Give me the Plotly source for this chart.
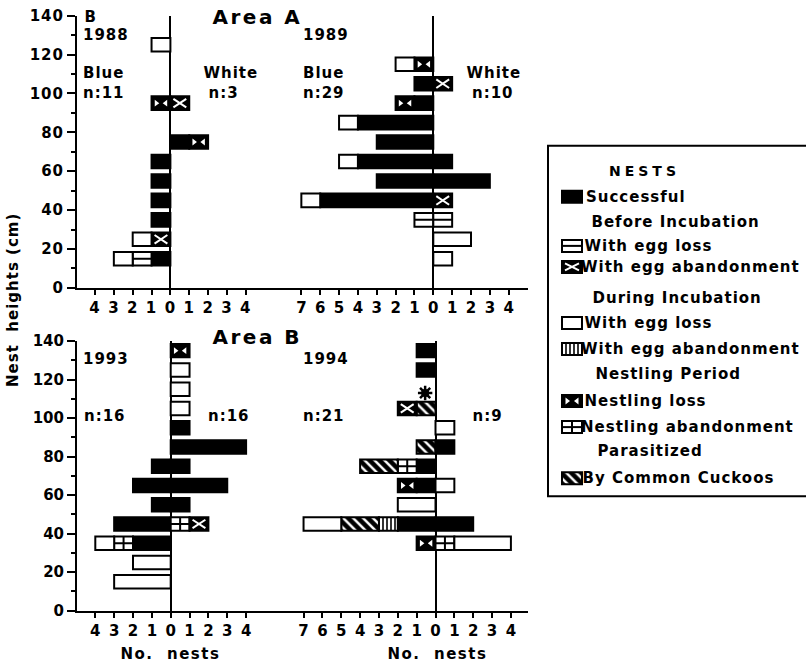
import plotly.graph_objects as go

# ---------------- data ----------------
HEIGHTS = [15, 25, 35, 45, 55, 65, 75, 85, 95, 105, 115, 125, 135]
X_TICKS_SMALL = [-4, -3, -2, -1, 0, 1, 2, 3, 4]
X_TICKS_LARGE = [-7, -6, -5, -4, -3, -2, -1, 0, 1, 2, 3, 4]
Y_TICKS = [0, 20, 40, 60, 80, 100, 120, 140]

# stacking order from the centre line outwards
CATS = ["successful", "nestling_loss", "nestling_aband", "inc_aband",
        "cuckoo", "pre_aband", "pre_loss", "inc_loss"]

# counts per height class (15 ... 135 cm); Blue = left side, White = right side
BLUE_1988 = {
    "successful":    [1, 0, 1, 1, 1, 1, 0, 0, 0, 0, 0, 0, 0],
    "nestling_loss": [0, 0, 0, 0, 0, 0, 0, 0, 1, 0, 0, 0, 0],
    "pre_aband":     [0, 1, 0, 0, 0, 0, 0, 0, 0, 0, 0, 0, 0],
    "pre_loss":      [1, 0, 0, 0, 0, 0, 0, 0, 0, 0, 0, 0, 0],
    "inc_loss":      [1, 1, 0, 0, 0, 0, 0, 0, 0, 0, 0, 1, 0],
}
WHITE_1988 = {
    "successful":    [0, 0, 0, 0, 0, 0, 1, 0, 0, 0, 0, 0, 0],
    "nestling_loss": [0, 0, 0, 0, 0, 0, 1, 0, 0, 0, 0, 0, 0],
    "pre_aband":     [0, 0, 0, 0, 0, 0, 0, 0, 1, 0, 0, 0, 0],
}
BLUE_1989 = {
    "successful":    [0, 0, 0, 6, 3, 4, 3, 4, 1, 1, 0, 0, 0],
    "nestling_loss": [0, 0, 0, 0, 0, 0, 0, 0, 1, 0, 1, 0, 0],
    "pre_loss":      [0, 0, 1, 0, 0, 0, 0, 0, 0, 0, 0, 0, 0],
    "inc_loss":      [0, 0, 0, 1, 0, 1, 0, 1, 0, 0, 1, 0, 0],
}
WHITE_1989 = {
    "successful":    [0, 0, 0, 0, 3, 1, 0, 0, 0, 0, 0, 0, 0],
    "pre_aband":     [0, 0, 0, 1, 0, 0, 0, 0, 0, 1, 0, 0, 0],
    "pre_loss":      [0, 0, 1, 0, 0, 0, 0, 0, 0, 0, 0, 0, 0],
    "inc_loss":      [1, 2, 0, 0, 0, 0, 0, 0, 0, 0, 0, 0, 0],
}
BLUE_1993 = {
    "successful":     [0, 0, 2, 3, 1, 2, 1, 0, 0, 0, 0, 0, 0],
    "nestling_aband": [0, 0, 1, 0, 0, 0, 0, 0, 0, 0, 0, 0, 0],
    "inc_loss":       [3, 2, 1, 0, 0, 0, 0, 0, 0, 0, 0, 0, 0],
}
WHITE_1993 = {
    "successful":     [0, 0, 0, 0, 1, 3, 1, 4, 1, 0, 0, 0, 0],
    "nestling_loss":  [0, 0, 0, 0, 0, 0, 0, 0, 0, 0, 0, 0, 1],
    "nestling_aband": [0, 0, 0, 1, 0, 0, 0, 0, 0, 0, 0, 0, 0],
    "pre_aband":      [0, 0, 0, 1, 0, 0, 0, 0, 0, 0, 0, 0, 0],
    "inc_loss":       [0, 0, 0, 0, 0, 0, 0, 0, 0, 1, 1, 1, 0],
}
BLUE_1994 = {
    "successful":     [0, 0, 0, 2, 0, 1, 1, 0, 0, 0, 0, 1, 1],
    "nestling_loss":  [0, 0, 1, 0, 0, 1, 0, 0, 0, 0, 0, 0, 0],
    "nestling_aband": [0, 0, 0, 0, 0, 0, 1, 0, 0, 0, 0, 0, 0],
    "inc_aband":      [0, 0, 0, 1, 0, 0, 0, 0, 0, 0, 0, 0, 0],
    "cuckoo":         [0, 0, 0, 2, 0, 0, 2, 1, 0, 1, 0, 0, 0],
    "pre_aband":      [0, 0, 0, 0, 0, 0, 0, 0, 0, 1, 0, 0, 0],
    "inc_loss":       [0, 0, 0, 2, 2, 0, 0, 0, 0, 0, 0, 0, 0],
}
WHITE_1994 = {
    "successful":     [0, 0, 0, 2, 0, 0, 0, 1, 0, 0, 0, 0, 0],
    "nestling_aband": [0, 0, 1, 0, 0, 0, 0, 0, 0, 0, 0, 0, 0],
    "inc_loss":       [0, 0, 3, 0, 0, 1, 0, 0, 1, 0, 0, 0, 0],
}
ASTERISK_1994 = ([-0.55], [113])

PANEL_YEARS = ["1988", "1989", "1993", "1994"]
PANEL_N_BLUE = ["n:11", "n:29", "n:16", "n:21"]
PANEL_N_WHITE = ["n:3", "n:10", "n:16", "n:9"]

LEGEND_ITEMS = [
    ("successful", "Successful"),
    ("pre_loss", "With egg loss"),
    ("pre_aband", "With egg abandonment"),
    ("inc_loss", "With egg loss"),
    ("inc_aband", "With egg abandonment"),
    ("nestling_loss", "Nestling loss"),
    ("nestling_aband", "Nestling abandonment"),
    ("cuckoo", "By Common Cuckoos"),
]
LEGEND_HEADERS = ["Before Incubation", "During Incubation", "Nestling Period", "Parasitized"]

# ---------------- geometry ----------------
W, H = 806, 666
FONT = "DejaVu Sans"
UNIT = 18.85          # px per nest
BAR_H = 7             # cm
# vertical calibration of the photographed page (observed = OFF + SC * layout px)
V_OFF, V_SC = 8.4, 0.9718


def pxx(x):
    return x / W


def pxy(y):
    return 1 - ((y - V_OFF) / V_SC) / H


TOP_Y0, TOP_Y140 = 287, 15
BOT_Y0, BOT_Y140 = 609.3, 340
X_LEFT, X_SPLIT, X_RIGHT = 77, 285, 528
CENTERS = [170.4, 433.3, 170.7, 435.5]

STYLE = {
    "successful": dict(color="black"),
    "nestling_loss": dict(color="black"),
    "nestling_aband": dict(color="white"),
    "inc_aband": dict(color="white", pattern=dict(shape="|", fgcolor="black", bgcolor="white",
                                                  size=4, solidity=0.4, fillmode="replace")),
    "cuckoo": dict(color="black", pattern=dict(shape="\\", fgcolor="white", bgcolor="black",
                                               size=7, solidity=0.35, fillmode="replace")),
    "pre_aband": dict(color="black"),
    "pre_loss": dict(color="white"),
    "inc_loss": dict(color="white"),
}

fig = go.Figure()


class Deco:
    def __init__(self):
        self.wx, self.wy = [], []   # white lines
        self.bx, self.by = [], []   # black lines
        self.trx, self.try_ = [], []
        self.tlx, self.tly = [], []


def add_segments(deco, cat, starts, lengths, ys, hh, unit_len, sx, sy):
    """decorate each unit of each segment"""
    for s, n, yc in zip(starts, lengths, ys):
        k = int(round(n / unit_len))
        for i in range(k):
            u0 = s + i * unit_len
            u1 = u0 + unit_len
            if cat == "pre_loss":
                deco.bx += [u0, u1, None]
                deco.by += [yc, yc, None]
            elif cat == "pre_aband":
                dx, dy = 3 / sx, 2.5 / sy
                deco.wx += [u0 + dx, u1 - dx, None, u0 + dx, u1 - dx, None]
                deco.wy += [yc - hh + dy, yc + hh - dy, None, yc + hh - dy, yc - hh + dy, None]
            elif cat == "nestling_loss":
                deco.trx.append(u0 + 0.25 * unit_len)
                deco.try_.append(yc)
                deco.tlx.append(u1 - 0.25 * unit_len)
                deco.tly.append(yc)
            elif cat == "nestling_aband":
                m = (u0 + u1) / 2
                deco.bx += [u0, u1, None, m, m, None]
                deco.by += [yc, yc, None, yc - hh, yc + hh, None]


def flush_deco(deco, xa, ya):
    if deco.wx:
        fig.add_trace(go.Scatter(x=deco.wx, y=deco.wy, mode="lines", xaxis=xa, yaxis=ya,
                                 line=dict(color="white", width=2), hoverinfo="skip", showlegend=False))
    if deco.bx:
        fig.add_trace(go.Scatter(x=deco.bx, y=deco.by, mode="lines", xaxis=xa, yaxis=ya,
                                 line=dict(color="black", width=2), hoverinfo="skip", showlegend=False))
    if deco.trx:
        fig.add_trace(go.Scatter(x=deco.trx, y=deco.try_, mode="markers", xaxis=xa, yaxis=ya,
                                 marker=dict(symbol="triangle-right", color="white", size=6),
                                 hoverinfo="skip", showlegend=False))
    if deco.tlx:
        fig.add_trace(go.Scatter(x=deco.tlx, y=deco.tly, mode="markers", xaxis=xa, yaxis=ya,
                                 marker=dict(symbol="triangle-left", color="white", size=6),
                                 hoverinfo="skip", showlegend=False))


def add_bar(cat, starts, lengths, ys, width, xa, ya):
    st = STYLE[cat]
    marker = dict(color=st["color"], line=dict(color="black", width=2))
    if "pattern" in st:
        marker["pattern"] = st["pattern"]
    fig.add_trace(go.Bar(orientation="h", y=ys, x=lengths, base=starts, width=width,
                         marker=marker, xaxis=xa, yaxis=ya, hoverinfo="skip", showlegend=False))


PANELS = [
    (BLUE_1988, WHITE_1988, "x", "y", TOP_Y0, TOP_Y140),
    (BLUE_1989, WHITE_1989, "x2", "y2", TOP_Y0, TOP_Y140),
    (BLUE_1993, WHITE_1993, "x3", "y3", BOT_Y0, BOT_Y140),
    (BLUE_1994, WHITE_1994, "x4", "y4", BOT_Y0, BOT_Y140),
]

for blue, white, xa, ya, y0p, y140p in PANELS:
    sy = (y0p - y140p) / 140
    deco = Deco()
    for side, sign in ((blue, -1), (white, 1)):
        cum = [0] * len(HEIGHTS)
        for cat in CATS:
            vals = side.get(cat)
            if vals is None:
                continue
            starts, lens, ys = [], [], []
            for i, v in enumerate(vals):
                if v > 0:
                    if sign > 0:
                        starts.append(cum[i])
                    else:
                        starts.append(-(cum[i] + v))
                    lens.append(v)
                    ys.append(HEIGHTS[i])
                    cum[i] += v
            if lens:
                add_bar(cat, starts, lens, ys, BAR_H, xa, ya)
                add_segments(deco, cat, starts, lens, ys, BAR_H / 2, 1, UNIT, sy)
    flush_deco(deco, xa, ya)

# asterisk in 1994
fig.add_trace(go.Scatter(x=ASTERISK_1994[0], y=ASTERISK_1994[1], mode="markers", xaxis="x4", yaxis="y4",
                         marker=dict(symbol="circle", color="black", size=8), hoverinfo="skip", showlegend=False))
fig.add_trace(go.Scatter(x=ASTERISK_1994[0], y=ASTERISK_1994[1], mode="markers", xaxis="x4", yaxis="y4",
                         marker=dict(symbol="asterisk-open", color="black", size=12, line=dict(width=2.5, color="black")),
                         hoverinfo="skip", showlegend=False))

# ---------------- legend (drawn on an extra pixel-scaled axis) ----------------
LEG_ICON_X0, LEG_ICON_W, LEG_ICON_H = 562, 20, 12
LEG_ITEM_Y = [196, 245, 266, 322, 348, 400, 426, 477]
LEG_HEAD_Y = [221, 297, 373, 450]
leg_deco = Deco()
for (cat, label), yy in zip(LEGEND_ITEMS, LEG_ITEM_Y):
    add_bar(cat, [LEG_ICON_X0], [LEG_ICON_W], [yy], LEG_ICON_H, "x5", "y5")
    add_segments(leg_deco, cat, [LEG_ICON_X0], [LEG_ICON_W], [yy], LEG_ICON_H / 2, LEG_ICON_W, 1, 1)
flush_deco(leg_deco, "x5", "y5")

# ---------------- layout ----------------
tickfont = dict(family=FONT, size=15, color="black", weight="bold")


def xaxis_cfg(center, dom0, dom1, ticks, anchor):
    return dict(domain=[pxx(dom0), pxx(dom1)],
                range=[(dom0 - center) / UNIT, (dom1 - center) / UNIT],
                tickmode="array", tickvals=ticks, ticktext=[str(abs(t)) for t in ticks],
                ticks="outside", ticklen=5, tickwidth=2, tickcolor="black",
                showline=True, linewidth=2, linecolor="black",
                zeroline=True, zerolinewidth=2, zerolinecolor="black",
                showgrid=False, tickfont=tickfont, anchor=anchor, fixedrange=True)


def yaxis_cfg(y0p, y140p, anchor, visible):
    d = dict(domain=[pxy(y0p), pxy(y140p)], range=[0, 140], anchor=anchor,
             showgrid=False, zeroline=False, fixedrange=True)
    if visible:
        d.update(tickmode="array", tickvals=Y_TICKS, ticks="outside", ticklen=8, tickwidth=2,
                 tickcolor="black", showline=True, linewidth=2, linecolor="black",
                 tickfont=tickfont,
                 minor=dict(tickmode="array", tickvals=[10, 30, 50, 70, 90, 110, 130],
                            ticks="outside", ticklen=4, tickwidth=2, tickcolor="black"))
    else:
        d.update(visible=False)
    return d


layout = dict(
    width=W, height=H, margin=dict(l=0, r=0, t=0, b=0),
    paper_bgcolor="white", plot_bgcolor="rgba(0,0,0,0)",
    barmode="overlay", showlegend=False,
    font=dict(family=FONT, size=15, color="black", weight="bold"),
    xaxis=xaxis_cfg(CENTERS[0], X_LEFT, X_SPLIT, X_TICKS_SMALL, "y"),
    xaxis2=xaxis_cfg(CENTERS[1], X_SPLIT, X_RIGHT, X_TICKS_LARGE, "y2"),
    xaxis3=xaxis_cfg(CENTERS[2], X_LEFT, X_SPLIT, X_TICKS_SMALL, "y3"),
    xaxis4=xaxis_cfg(CENTERS[3], X_SPLIT, X_RIGHT, X_TICKS_LARGE, "y4"),
    yaxis=yaxis_cfg(TOP_Y0, TOP_Y140, "x", True),
    yaxis2=yaxis_cfg(TOP_Y0, TOP_Y140, "x2", False),
    yaxis3=yaxis_cfg(BOT_Y0, BOT_Y140, "x3", True),
    yaxis4=yaxis_cfg(BOT_Y0, BOT_Y140, "x4", False),
    xaxis5=dict(domain=[pxx(548), 1], range=[548, W], visible=False, fixedrange=True, anchor="y5"),
    yaxis5=dict(domain=[0, 1], range=[V_OFF + V_SC * H, V_OFF], visible=False, fixedrange=True, anchor="x5"),
)
fig.update_layout(**layout)

annots = []


def txt(text, x, y, size=15, xanchor="left", angle=0):
    annots.append(dict(text=text, x=pxx(x), y=pxy(y), xref="paper", yref="paper",
                       xanchor=xanchor, yanchor="middle", showarrow=False, textangle=angle,
                       font=dict(family=FONT, size=size, color="black", weight="bold")))


NBSP = "\u00a0"
txt("B", 83, 16)
txt("Area" + NBSP + "A", 218, 16, size=20)
txt("Area" + NBSP + "B", 218, 336, size=20)
year_pos = [(83, 34), (303, 34), (83, 358), (303, 358)]
for yr, (x, y) in zip(PANEL_YEARS, year_pos):
    txt(yr, x, y)
for bx, wx, yb in [(83, 204, 72), (303, 467, 72)]:
    txt("Blue", bx, yb)
    txt("White", wx, yb)
nb_pos = [(83, 92), (303, 92), (84, 415), (303, 415)]
nw_pos = [(208, 92), (472, 92), (208, 415), (472, 415)]
for t, (x, y) in zip(PANEL_N_BLUE, nb_pos):
    txt(t, x, y)
for t, (x, y) in zip(PANEL_N_WHITE, nw_pos):
    txt(t, x, y)
txt("No." + NBSP + " nests", 126, 653)
txt("No." + NBSP + " nests", 393, 653)
txt("Nest" + NBSP + " heights (cm)", 13, 299, xanchor="center", angle=-90)

# legend texts
txt("NESTS", 617, 170, size=14)
for (cat, label), yy in zip(LEGEND_ITEMS, LEG_ITEM_Y):
    txt(label, 589, yy)
for head, yy, xx in zip(LEGEND_HEADERS, LEG_HEAD_Y, [598, 599, 601, 601]):
    txt(head, xx, yy)

fig.update_layout(annotations=annots)

# legend frame
fig.add_shape(type="path", xref="paper", yref="paper",
              path=f"M {pxx(830)} {pxy(145)} L {pxx(548)} {pxy(145)} L {pxx(548)} {pxy(495)} L {pxx(830)} {pxy(495)}",
              line=dict(color="black", width=2))

POST = """
var st=document.createElement('style');
st.textContent='html,body{margin:0 !important;padding:0 !important;width:806px !important;height:666px !important;overflow:hidden !important;}';
document.head.appendChild(st);
var gd=document.getElementById('{plot_id}');
gd.style.position='fixed';
gd.style.left='0px';
gd.style.top='0px';
function spacing(){
  gd.querySelectorAll('text.annotation-text').forEach(function(t){
    var s=t.textContent; var v='1px';
    if(s.indexOf('Area')===0){v='2.5px';} else if(s==='NESTS'){v='4px';}
    else if(s.indexOf('No.')===0){v='1.5px';}
    t.style.letterSpacing=v;});
  gd.querySelectorAll('.xtick text, .ytick text').forEach(function(t){t.style.letterSpacing='1px';});
}
spacing();
gd.on('plotly_afterplot', spacing);
"""

fig.write_html("out.html", post_script=POST, config={"displayModeBar": False, "responsive": False})
